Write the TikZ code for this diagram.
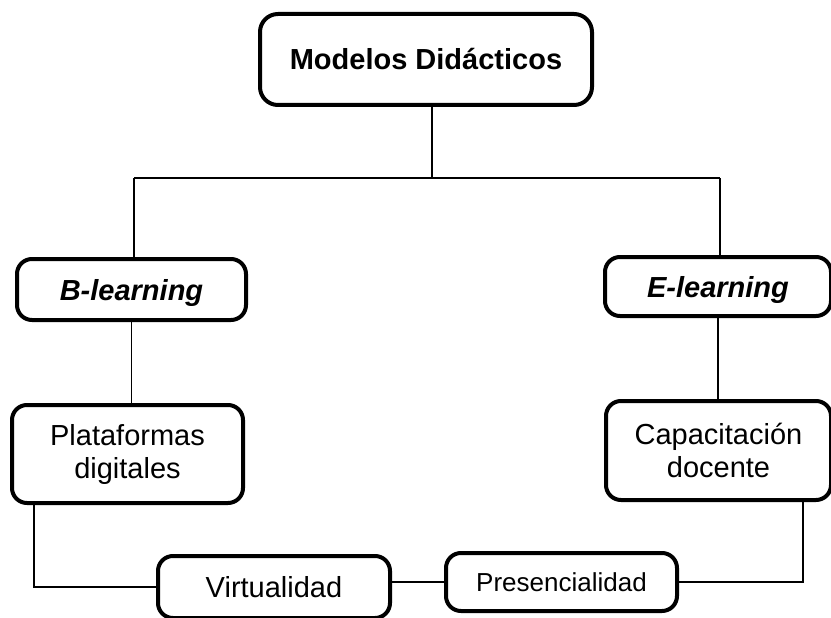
\documentclass[tikz,border=0pt]{standalone}
\usepackage{fontspec}
\setmainfont{Liberation Sans}
\begin{document}
\begin{tikzpicture}[x=1pt,y=-1pt,
  box/.style={draw=black,line width=4pt,rounded corners=15pt,fill=white,
    align=center,inner sep=0pt,outer sep=0pt,
    font=\fontsize{29}{33}\selectfont},
  oneline/.style={text height=21pt,text depth=0pt},
  conn/.style={draw=black,line width=1.5pt}]
\useasboundingbox (0,0) rectangle (831,618);
% nodes
\node[box,minimum width=332pt,minimum height=91pt,rounded corners=18pt,
      font=\fontsize{29}{33}\selectfont\bfseries] (top) at (426,59.5) {Modelos Didácticos};
\node[box,oneline,minimum width=229pt,minimum height=61pt,
      font=\fontsize{29}{33}\selectfont\bfseries\itshape] (bl) at (131.5,289.5) {B-learning};
\node[box,oneline,minimum width=226pt,minimum height=59pt,
      font=\fontsize{29}{33}\selectfont\bfseries\itshape] (el) at (718,286.5) {E-learning};
\node[box,minimum width=231pt,minimum height=98pt] (pd) at (127.5,454) {Plataformas\\digitales};
\node[box,minimum width=225pt,minimum height=99pt] (cd) at (718.5,450.5) {Capacitación\\docente};
\node[box,oneline,minimum width=232pt,minimum height=62pt] (vir) at (274,587) {Virtualidad};
\node[box,minimum width=231pt,minimum height=58pt,text height=19pt,text depth=0pt,
      font=\fontsize{26}{30}\selectfont] (pres) at (561.5,582) {Presencialidad};
% junction coordinates
\coordinate (hub) at (432,178);
\coordinate (hl) at (134,178);
\coordinate (hr) at (720,178);
\coordinate (pdb) at ([xshift=22pt]pd.south west);
\coordinate (cdb) at ([xshift=-28pt]cd.south east);
% connectors
\draw[conn] (top.south -| hub) -- (hub);
\draw[conn] (hl) -- (hr);
\draw[conn] (hl) -- (hl |- bl.north);
\draw[conn] (hr) -- (hr |- el.north);
\draw[conn] (bl.south) -- (bl.south |- pd.north);
\draw[conn] (el.south) -- (el.south |- cd.north);
\draw[conn] (pdb) |- (vir.west);
\draw[conn] (vir.east |- pres.west) -- (pres.west);
\draw[conn] (pres.east) -| (cdb);
\end{tikzpicture}
\end{document}
